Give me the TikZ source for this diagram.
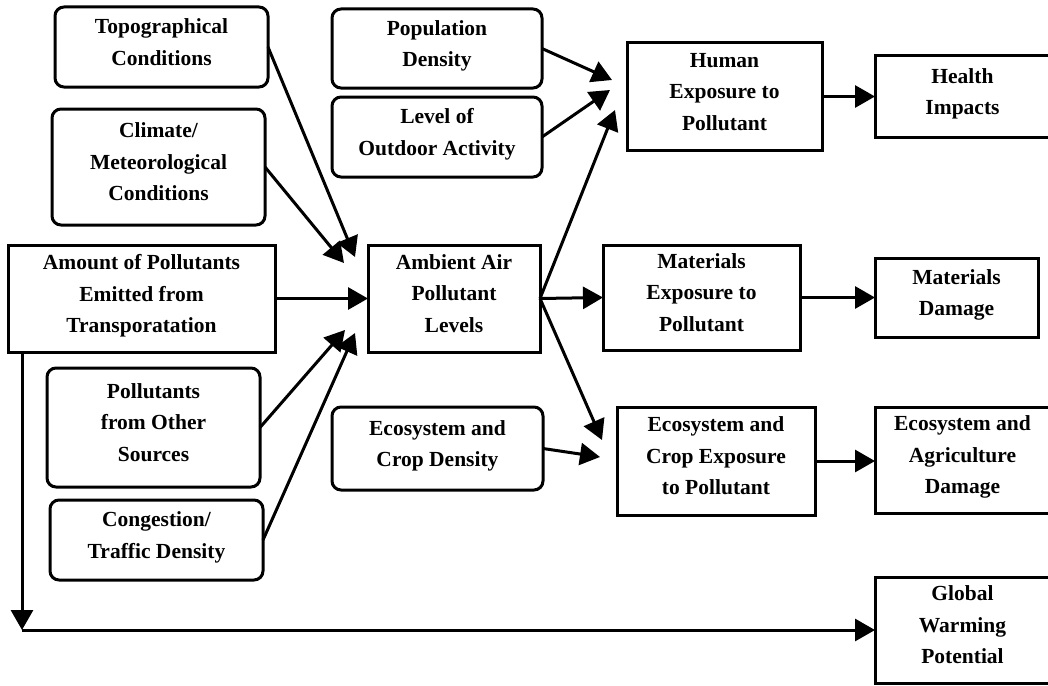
\documentclass[tikz,border=0pt]{standalone}
\usepackage{fontspec}
\setmainfont{Liberation Serif}
\usetikzlibrary{arrows.meta}
\newcommand{\dropdepth}{\rule[-10pt]{0pt}{0pt}}
\begin{document}
\begin{tikzpicture}[x=1pt,y=-1pt,
  every node/.style={inner sep=0pt, outer sep=0pt, align=center,
    font=\fontsize{21.5}{31.5}\selectfont\bfseries},
  sqbox/.style={draw, line width=3pt},
  rbox/.style={draw, line width=3pt, rounded corners=9pt},
  conn/.style={line width=3pt, -{Triangle[length=20pt,width=22pt]}}]
\useasboundingbox (0,0) rectangle (1048,685);

% ---- left column: influencing factors
\node[rbox, minimum width=213, minimum height=80] (topo) at (161.5,47)
  {Topographical\\Conditions\dropdepth};
\node[rbox, minimum width=213, minimum height=116] (climate) at (158.5,167)
  {Climate/\\Meteorological\\Conditions\dropdepth};
\node[sqbox, minimum width=267, minimum height=107] (amount) at (141.5,298.5)
  {Amount of Pollutants\\Emitted from\\Transporatation\dropdepth};
\node[rbox, minimum width=213, minimum height=119] (other) at (153.5,427.5)
  {Pollutants\\from Other\\Sources\dropdepth};
\node[rbox, minimum width=213, minimum height=80] (cong) at (156.5,540)
  {Congestion/\\Traffic Density\dropdepth};

% ---- middle column
\node[rbox, minimum width=210, minimum height=79] (pop) at (437,48.5)
  {Population\\Density\dropdepth};
\node[rbox, minimum width=210, minimum height=80] (level) at (437,137)
  {Level of\\Outdoor Activity\dropdepth};
\node[sqbox, minimum width=172, minimum height=107] (ambient) at (454,298.5)
  {Ambient Air\\Pollutant\\Levels\dropdepth};
\node[rbox, minimum width=211, minimum height=83] (ecoden) at (437.5,448.5)
  {Ecosystem and\\Crop Density\dropdepth};

% ---- exposure column
\node[sqbox, minimum width=195, minimum height=107] (human) at (724.5,96.5)
  {Human\\Exposure to\\Pollutant\dropdepth};
\node[sqbox, minimum width=197, minimum height=105] (materials) at (701.5,297.5)
  {Materials\\Exposure to\\Pollutant\dropdepth};
\node[sqbox, minimum width=198, minimum height=108] (ecoexp) at (716,461)
  {Ecosystem and\\Crop Exposure\\to Pollutant\dropdepth};

% ---- impacts column
\node[sqbox, minimum width=175, minimum height=81] (health) at (962.5,96.5)
  {Health\\Impacts\dropdepth};
\node[sqbox, minimum width=163, minimum height=79] (matdmg) at (956.5,297.5)
  {Materials\\Damage\dropdepth};
\node[sqbox, minimum width=175, minimum height=106] (ecodmg) at (962.5,460)
  {Ecosystem and\\Agriculture\\Damage\dropdepth};
\node[sqbox, minimum width=175, minimum height=106] (global) at (962.5,630)
  {Global\\Warming\\Potential\dropdepth};

% ---- arrow tip positions
\coordinate (tTopo) at (355,257);
\coordinate (tClim) at (344,263);
\coordinate (tOther) at (345,330);
\coordinate (tCong) at (355,333);
\coordinate (tPop) at (612,80);
\coordinate (tLevel) at (610,90);
\coordinate (tHuman) at (615,110);
\coordinate (tEco) at (602,440);
\coordinate (tEcoDen) at (600,457);
\coordinate (corner) at (22,630);

% ---- connectors
\draw[conn] (topo.east) -- (tTopo);
\draw[conn] (climate.east) -- (tClim);
\draw[conn] (amount.east) -- (ambient.west);
\draw[conn] (other.east) -- (tOther);
\draw[conn] (cong.east) -- (tCong);

\draw[conn] (pop.east) -- (tPop);
\draw[conn] (level.east) -- (tLevel);
\draw[conn] (ambient.east) -- (tHuman);
\draw[conn] (ambient.east) -- (materials.west);
\draw[conn] (ambient.east) -- (tEco);
\draw[conn] (ecoden.east) -- (tEcoDen);

\draw[conn] (human.east) -- (health.west);
\draw[conn] (materials.east) -- (matdmg.west);
\draw[conn] (ecoexp.east) -- (ecodmg.west |- ecoexp.east);

\draw[conn] (corner |- amount.south) -- (corner);
\draw[conn] (corner) -- (global.west);
\end{tikzpicture}
\end{document}
